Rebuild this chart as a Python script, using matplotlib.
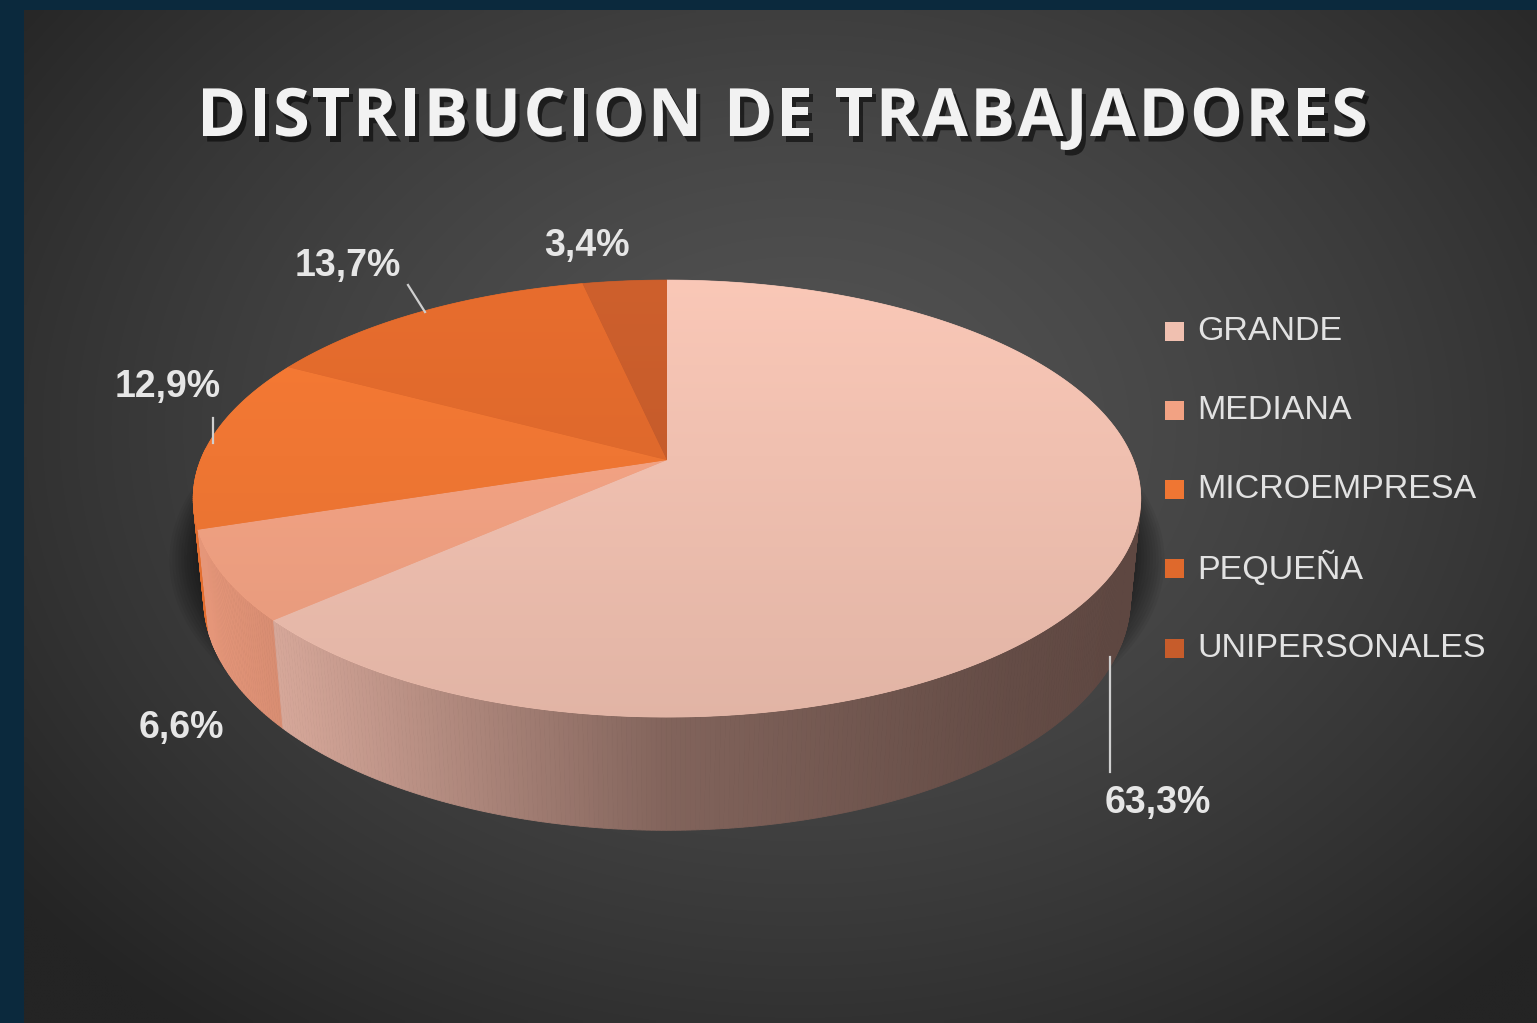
import numpy as np
import matplotlib
matplotlib.use("Agg")
import matplotlib.pyplot as plt
from matplotlib.patches import Polygon, Rectangle
from matplotlib.font_manager import FontProperties
from matplotlib.textpath import TextToPath
import matplotlib.patheffects as pe

# datos del grafico
categorias = ["GRANDE", "MEDIANA", "MICROEMPRESA", "PEQUEÑA", "UNIPERSONALES"]
porcentajes = [63.3, 6.6, 12.9, 13.7, 3.4]
etiquetas = ["63,3%", "6,6%", "12,9%", "13,7%", "3,4%"]
colores = ["#f0c0b0", "#f2a283", "#ef7633", "#df692c", "#c65c2b"]
titulo = "DISTRIBUCION DE TRABAJADORES"

W, H = 1537, 1023
fig = plt.figure(figsize=(W / 100, H / 100), dpi=100)
fig.patch.set_facecolor("#0b293d")
ax = fig.add_axes([0, 0, 1, 1])
ax.axis("off")

# fondo gris con degradado radial
gx, gy = np.meshgrid(np.linspace(24, W, 300), np.linspace(10, H, 200))
r = np.sqrt(((gx - 800) / 1000) ** 2 + ((gy - 430) / 760) ** 2)
v = (0x53 - (0x53 - 0x24) * np.clip(r, 0, 1) ** 1.4) / 255
ax.imshow(np.dstack([v, v, v]), extent=(24, W, H, 10), origin="upper",
          interpolation="bilinear", aspect="auto", zorder=0)

# proyeccion en perspectiva del pastel 3D
E = np.radians(27)
D, F = 5.05, 2355
CX, CY = 667, 460
ALTO = 0.244


def proj(x, y, z):
    yc = y * np.sin(E) + z * np.cos(E)
    dep = D + y * np.cos(E) - z * np.sin(E)
    return CX + F * x / dep, CY - F * yc / dep


def hex2rgb(c):
    return np.array(matplotlib.colors.to_rgb(c))


# angulos de cada porcion (sentido horario desde arriba)
frac = np.array(porcentajes) / sum(porcentajes)
fin = 90 - 360 * np.cumsum(frac)
ini = np.concatenate([[90], fin[:-1]])

# sombra suave alrededor
ts = np.radians(np.linspace(0, 360, 400))
for k in range(10, 0, -1):
    s = 1 + 0.006 * k
    sx, sy = proj(s * np.cos(ts), s * np.sin(ts), -ALTO * 0.5)
    sy = sy + 6
    ax.add_patch(Polygon(np.column_stack([sx, sy]), closed=True, fc="black",
                         ec="none", alpha=0.05, zorder=1))

# paredes laterales
caras = []
for a0, a1, c in zip(ini, fin, colores):
    base = hex2rgb(c)
    n = max(int(abs(a1 - a0) * 2), 2)
    t = np.radians(np.linspace(a0, a1, n + 1))
    for i in range(n):
        ta, tb = t[i], t[i + 1]
        tm = 0.5 * (ta + tb)
        if np.sin(tm) > 0.05:
            continue
        xa, ya = proj(np.cos(ta), np.sin(ta), 0)
        xb, yb = proj(np.cos(tb), np.sin(tb), 0)
        xc, yc = proj(np.cos(tb), np.sin(tb), -ALTO)
        xd, yd = proj(np.cos(ta), np.sin(ta), -ALTO)
        xm = 0.5 * (xa + xb)
        f = np.interp(xm, [197, 300, 667, 1000, 1137], [0.93, 0.85, 0.52, 0.40, 0.37])
        col = np.clip(base * f + np.array([0.02, 0.0, 0.0]), 0, 1)
        caras.append((np.sin(tm), [(xa, ya), (xb, yb), (xc, yc), (xd, yd)], col))
caras.sort(key=lambda q: -q[0])
for _, pts, col in caras:
    ax.add_patch(Polygon(pts, closed=True, fc=col, ec=col, lw=0.6, zorder=2))

# caras superiores con degradado vertical
for a0, a1, c in zip(ini, fin, colores):
    base = hex2rgb(c)
    t = np.radians(np.linspace(a0, a1, 300))
    px, py = proj(np.cos(t), np.sin(t), 0)
    pts = np.vstack([[CX, CY], np.column_stack([px, py])])
    poly = Polygon(pts, closed=True, fc=base, ec=base, lw=0.5, zorder=3)
    ax.add_patch(poly)
    yy = np.linspace(270, 730, 120)
    g = np.clip(1.04 - 0.10 * (yy - 280) / 440, 0, 1.1)
    img = np.clip(base[None, None, :] * g[:, None, None], 0, 1)
    img = np.repeat(img, 2, axis=1)
    im = ax.imshow(img, extent=(190, 1145, 730, 270), origin="upper",
                   interpolation="bilinear", aspect="auto", zorder=4)
    im.set_clip_path(poly)

# titulo letra por letra, con espaciado extra
fp = FontProperties(family="Open Sans", weight="bold", size=48)
ttp = TextToPath()
anchos = [ttp.get_text_width_height_descent(ch, fp, ismath=False)[0] * 100 / 72
          for ch in titulo]
x_ini, x_fin = 197, 1368
extra = (x_fin - x_ini - sum(anchos)) / (len(titulo) - 1)
x = x_ini
sombra = [pe.withSimplePatchShadow(offset=(3, -4), shadow_rgbFace="black", alpha=0.55)]
for ch, w in zip(titulo, anchos):
    ax.text(x, 136, ch, ha="left", va="baseline", color="#f2f2f2",
            fontproperties=fp, zorder=6, path_effects=sombra)
    x += w + extra

# etiquetas de porcentaje
pos_etq = [(1158, 803), (181, 728), (168, 387), (348, 266), (587, 246)]
for (x, y), txt in zip(pos_etq, etiquetas):
    ax.text(x, y, txt, ha="center", va="center", color="#e6e6e6",
            fontsize=27, fontweight="bold", family="Liberation Sans", zorder=6)

# lineas guia
for (x0, y0), (x1, y1) in [((1110, 657), (1110, 772)), ((213, 418), (213, 443)),
                           ((408, 285), (425, 312))]:
    ax.plot([x0, x1], [y0, y1], color="#cfcfcf", lw=1.6, zorder=6)

# leyenda
for i, (cat, c) in enumerate(zip(categorias, colores)):
    y = 331 + 79.3 * i
    ax.add_patch(Rectangle((1165, y - 9.5), 19, 19, fc=c, ec="none", zorder=6))
    ax.text(1197, y, cat, ha="left", va="center", color="#e2e2e2",
            fontsize=24.5, family="Liberation Sans", zorder=6)

ax.set_xlim(0, W)
ax.set_ylim(H, 0)
fig.savefig("out.png", dpi=100, facecolor=fig.get_facecolor())
